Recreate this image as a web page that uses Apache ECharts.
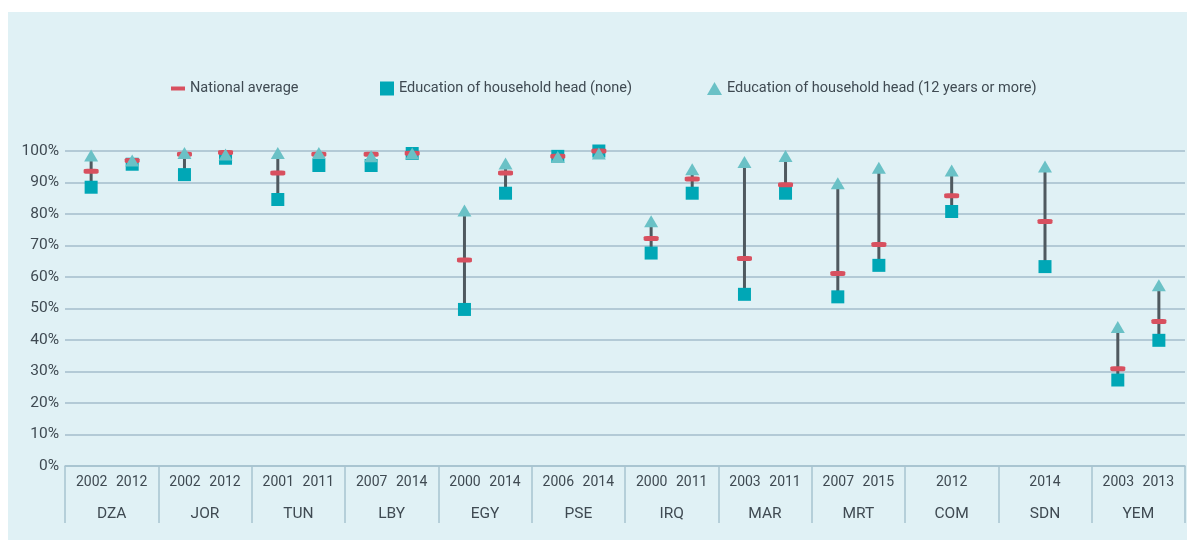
<!DOCTYPE html>
<html>
<head>
<meta charset="utf-8">
<script src="https://cdn.jsdelivr.net/npm/echarts@6/dist/echarts.min.js"></script>
<style>
  html, body { margin: 0; padding: 0; background: #ffffff; }
  #chart { width: 1187px; height: 543px; }
</style>
</head>
<body>
<div id="chart"></div>
<script>
// country groups along the x axis
const countries = ['DZA', 'JOR', 'TUN', 'LBY', 'EGY', 'PSE', 'IRQ', 'MAR', 'MRT', 'COM', 'SDN', 'YEM'];

// one entry per survey
const obsCountry = ['DZA', 'DZA', 'JOR', 'JOR', 'TUN', 'TUN', 'LBY', 'LBY', 'EGY', 'EGY', 'PSE', 'PSE',
  'IRQ', 'IRQ', 'MAR', 'MAR', 'MRT', 'MRT', 'COM', 'SDN', 'YEM', 'YEM'];
const obsYear = ['2002', '2012', '2002', '2012', '2001', '2011', '2007', '2014', '2000', '2014', '2006', '2014',
  '2000', '2011', '2003', '2011', '2007', '2015', '2012', '2014', '2003', '2013'];
const natAvg = [93.6, 97.0, 99.0, 99.5, 93.0, 99.0, 99.0, 99.3, 65.4, 93.0, 98.3, 100,
  72.2, 91.1, 65.9, 89.3, 61.1, 70.3, 85.8, 77.6, 30.9, 45.9];
const eduNone = [88.5, 95.8, 92.5, 97.7, 84.6, 95.4, 95.4, 99.2, 49.7, 86.6, 98.3, 100,
  67.6, 86.6, 54.5, 86.6, 53.7, 63.7, 80.8, 63.3, 27.3, 39.9];
const eduHigh = [98.6, 97.0, 99.4, 98.9, 99.4, 99.4, 98.3, 99.2, 81.1, 96.0, 98.1, 99.2,
  77.7, 94.2, 96.5, 98.4, 89.8, 94.7, 93.8, 95.1, 44.1, 57.4];

const yTicks = [0, 10, 20, 30, 40, 50, 60, 70, 80, 90, 100];

const FONT = "Roboto, 'Liberation Sans', sans-serif";
const TEXT = '#3f4a52';

// x position of each survey on the hidden value axis
const xPos = obsCountry.map((c, i) => {
  const ci = countries.indexOf(c);
  const same = obsCountry.filter((d) => d === c).length;
  if (same === 1) return ci + 0.5;
  const first = obsCountry.indexOf(c) === i;
  return ci + 0.5 + (first ? -0.22 : 0.22);
});

const yearsOf = {};
obsCountry.forEach((c, i) => {
  (yearsOf[c] = yearsOf[c] || []).push(obsYear[i]);
});

const chart = echarts.init(document.getElementById('chart'));

const legendText = {fontFamily: FONT, fontSize: 14.5, color: TEXT};

const option = {
  animation: false,
  backgroundColor: '#ffffff',
  textStyle: {fontFamily: FONT},
  graphic: [{
    type: 'rect',
    z: -10,
    silent: true,
    shape: {x: 8, y: 12, width: 1179, height: 528},
    style: {fill: '#e0f1f5'},
  }],
  legend: [
    {
      left: 166, top: 76,
      itemWidth: 14, itemHeight: 4,
      icon: 'rect',
      data: ['National average'],
      textStyle: legendText,
    },
    {
      left: 375, top: 76,
      itemWidth: 14, itemHeight: 14,
      icon: 'rect',
      data: ['Education of household head (none)'],
      textStyle: legendText,
    },
    {
      left: 702, top: 76,
      itemWidth: 15, itemHeight: 13,
      icon: 'triangle',
      data: ['Education of household head (12 years or more)'],
      textStyle: legendText,
    },
  ],
  grid: {left: 65, right: 2, top: 151, bottom: 77},
  xAxis: [
    {
      type: 'category',
      data: countries,
      position: 'bottom',
      axisLine: {show: true, lineStyle: {color: '#a6c3cf', width: 1.5}},
      axisTick: {show: true, interval: 0, length: 57, lineStyle: {color: '#a6c3cf', width: 1.5}},
      axisLabel: {
        interval: 0,
        margin: 0,
        fontFamily: FONT,
        color: TEXT,
        formatter: (c) => {
          const ys = yearsOf[c];
          const top = ys.length === 1 ? '{s|' + ys[0] + '}' : '{y|' + ys[0] + '}{y|' + ys[1] + '}';
          return top + '\n{c|' + c + '}';
        },
        rich: {
          y: {width: 40, align: 'center', fontSize: 14, lineHeight: 32, color: TEXT, fontFamily: FONT},
          s: {align: 'center', fontSize: 14, lineHeight: 32, color: TEXT, fontFamily: FONT},
          c: {align: 'center', fontSize: 15.5, lineHeight: 32, color: TEXT, fontFamily: FONT},
        },
      },
      splitLine: {show: false},
    },
    {
      type: 'value',
      min: 0,
      max: countries.length,
      show: false,
    },
  ],
  yAxis: {
    type: 'value',
    min: yTicks[0],
    max: yTicks[yTicks.length - 1],
    interval: 10,
    axisLine: {show: false},
    axisTick: {show: false},
    axisLabel: {
      formatter: '{value}%',
      margin: 6,
      fontFamily: FONT,
      fontSize: 15.5,
      color: TEXT,
    },
    splitLine: {lineStyle: {color: '#a4bccb', width: 1.5}},
  },
  series: [
    {
      name: 'range',
      type: 'custom',
      xAxisIndex: 1,
      z: 1,
      data: xPos.map((x, i) => [x, eduNone[i], eduHigh[i]]),
      encode: {x: 0, y: [1, 2]},
      renderItem: (params, api) => {
        const p1 = api.coord([api.value(0), api.value(1)]);
        const p2 = api.coord([api.value(0), api.value(2)]);
        return {
          type: 'line',
          shape: {x1: p1[0], y1: p1[1], x2: p2[0], y2: p2[1]},
          style: {stroke: '#4f595f', lineWidth: 3},
        };
      },
    },
    {
      name: 'Education of household head (none)',
      type: 'scatter',
      xAxisIndex: 1,
      z: 2,
      clip: false,
      symbol: 'rect',
      symbolSize: 13,
      itemStyle: {color: '#00a7b6', opacity: 1},
      data: xPos.map((x, i) => [x, eduNone[i]]),
    },
    {
      name: 'National average',
      type: 'scatter',
      xAxisIndex: 1,
      z: 3,
      clip: false,
      symbol: 'roundRect',
      symbolSize: [15, 5],
      itemStyle: {color: '#d8505f', opacity: 1},
      data: xPos.map((x, i) => [x, natAvg[i]]),
    },
    {
      name: 'Education of household head (12 years or more)',
      type: 'scatter',
      xAxisIndex: 1,
      z: 4,
      clip: false,
      symbol: 'triangle',
      symbolSize: [14, 12],
      itemStyle: {color: '#6ac1c6', opacity: 1},
      data: xPos.map((x, i) => [x, eduHigh[i]]),
    },
  ],
};

chart.setOption(option);
</script>
</body>
</html>
